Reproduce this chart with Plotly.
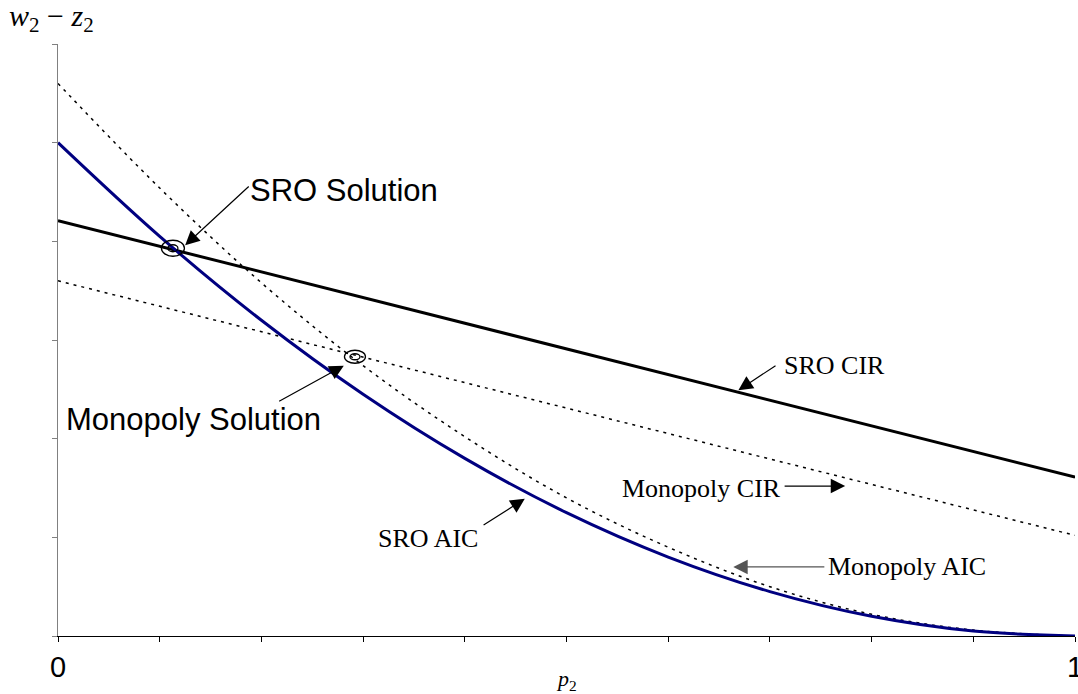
import plotly.graph_objects as go

# Price grid p2 and the four curves (w2 - z2 as a function of p2)
p2 = [0.0, 0.1, 0.2, 0.3, 0.4, 0.5, 0.6, 0.7, 0.8, 0.9, 1.0]
sro_aic = [5.0, 4.05, 3.2, 2.45, 1.8, 1.25, 0.8, 0.45, 0.2, 0.05, 0.0]
mono_aic = [5.6, 4.54, 3.58, 2.74, 2.02, 1.4, 0.9, 0.5, 0.22, 0.06, 0.0]
cir_p = [0.0, 1.0]
sro_cir = [4.21, 1.61]
mono_cir = [3.6, 1.02]

# Equilibrium points
sro_solution = (0.113, 3.93)
mono_solution = (0.292, 2.83)

x_ticks = [0.0, 0.1, 0.2, 0.3, 0.4, 0.5, 0.6, 0.7, 0.8, 0.9, 1.0]
x_ticktext = ["0", "", "", "", "", "", "", "", "", "", "1"]
y_ticks = [0, 1, 2, 3, 4, 5, 6]

SANS = "Liberation Sans, Arial, sans-serif"
SERIF = "Liberation Serif, Times New Roman, serif"
DOTS = "3px,5px"

fig = go.Figure()

fig.add_trace(go.Scatter(x=p2, y=mono_aic, mode="lines", line_shape="spline",
                         line=dict(color="black", width=1.5, dash=DOTS),
                         name="Monopoly AIC"))
fig.add_trace(go.Scatter(x=cir_p, y=mono_cir, mode="lines",
                         line=dict(color="black", width=1.5, dash=DOTS),
                         name="Monopoly CIR"))
fig.add_trace(go.Scatter(x=cir_p, y=sro_cir, mode="lines",
                         line=dict(color="black", width=3),
                         name="SRO CIR"))
fig.add_trace(go.Scatter(x=p2, y=sro_aic, mode="lines", line_shape="spline",
                         line=dict(color="#000080", width=3),
                         name="SRO AIC"))

# Double ellipses marking the solutions
def ring(pt, w, h):
    return dict(type="circle", xref="x", yref="y", xsizemode="pixel", ysizemode="pixel",
                xanchor=pt[0], yanchor=pt[1], x0=-w / 2, x1=w / 2, y0=-h / 2, y1=h / 2,
                line=dict(color="black", width=1.3), fillcolor="rgba(0,0,0,0)", layer="above")

shapes = [ring(sro_solution, 23, 16), ring(sro_solution, 10, 7),
          ring(mono_solution, 21, 13), ring(mono_solution, 10, 6)]

annotations = []

def arrow(tail, head, color="black"):
    annotations.append(dict(x=head[0], y=head[1], ax=tail[0], ay=tail[1],
                            xref="x", yref="y", axref="x", ayref="y", text="",
                            showarrow=True, arrowhead=2, arrowsize=2.4, arrowwidth=1.2,
                            arrowcolor=color, standoff=0, startstandoff=0))

def label(x, y, text, font, size, anchor="left"):
    annotations.append(dict(x=x, y=y, xref="x", yref="y", text=text, showarrow=False,
                            xanchor=anchor, yanchor="middle",
                            font=dict(family=font, size=size, color="black")))

label(0.187, 4.52, "SRO Solution", SANS, 31)
arrow((0.189, 4.57), (0.125, 3.96))
label(0.006, 2.19, "Monopoly Solution", SANS, 31)
arrow((0.216, 2.37), (0.281, 2.74))
label(0.712, 2.74, "SRO CIR", SERIF, 26)
arrow((0.707, 2.75), (0.669, 2.49))
label(0.713, 1.50, "Monopoly CIR", SERIF, 26, anchor="right")
arrow((0.713, 1.52), (0.774, 1.52))
label(0.313, 0.99, "SRO AIC", SERIF, 26)
arrow((0.417, 1.115), (0.459, 1.39))
label(0.755, 0.70, "Monopoly AIC", SERIF, 26)
arrow((0.755, 0.70), (0.664, 0.70), color="#555555")

# Axis titles
annotations.append(dict(x=-0.05, y=1.044, xref="paper", yref="paper",
                        text="<i>w</i><sub>2</sub> − <i>z</i><sub>2</sub>",
                        showarrow=False, xanchor="left", yanchor="middle",
                        font=dict(family=SERIF, size=30, color="black")))
annotations.append(dict(x=0.5, y=-0.074, xref="paper", yref="paper",
                        text="<i>p</i><sub>2</sub>",
                        showarrow=False, xanchor="center", yanchor="middle",
                        font=dict(family=SERIF, size=22, color="black")))

fig.update_layout(
    width=1078, height=694,
    margin=dict(l=58, r=3, t=44, b=58, autoexpand=False),
    paper_bgcolor="white", plot_bgcolor="white",
    showlegend=False,
    shapes=shapes,
    annotations=annotations,
    xaxis=dict(range=[0, 1], showgrid=False, zeroline=False, automargin=False,
               showline=True, linecolor="black", linewidth=1.3,
               ticks="outside", ticklen=5, tickwidth=1, tickcolor="black",
               tickvals=x_ticks, ticktext=x_ticktext,
               tickfont=dict(family=SANS, size=29, color="black"),
               ticklabelstandoff=0, ticklabeloverflow="allow"),
    yaxis=dict(range=[0, 6], showgrid=False, zeroline=False, automargin=False,
               showline=True, linecolor="#808080", linewidth=1.3,
               ticks="outside", ticklen=5, tickwidth=1, tickcolor="#808080",
               tickvals=y_ticks, showticklabels=False),
)

fig.write_html("out.html")
